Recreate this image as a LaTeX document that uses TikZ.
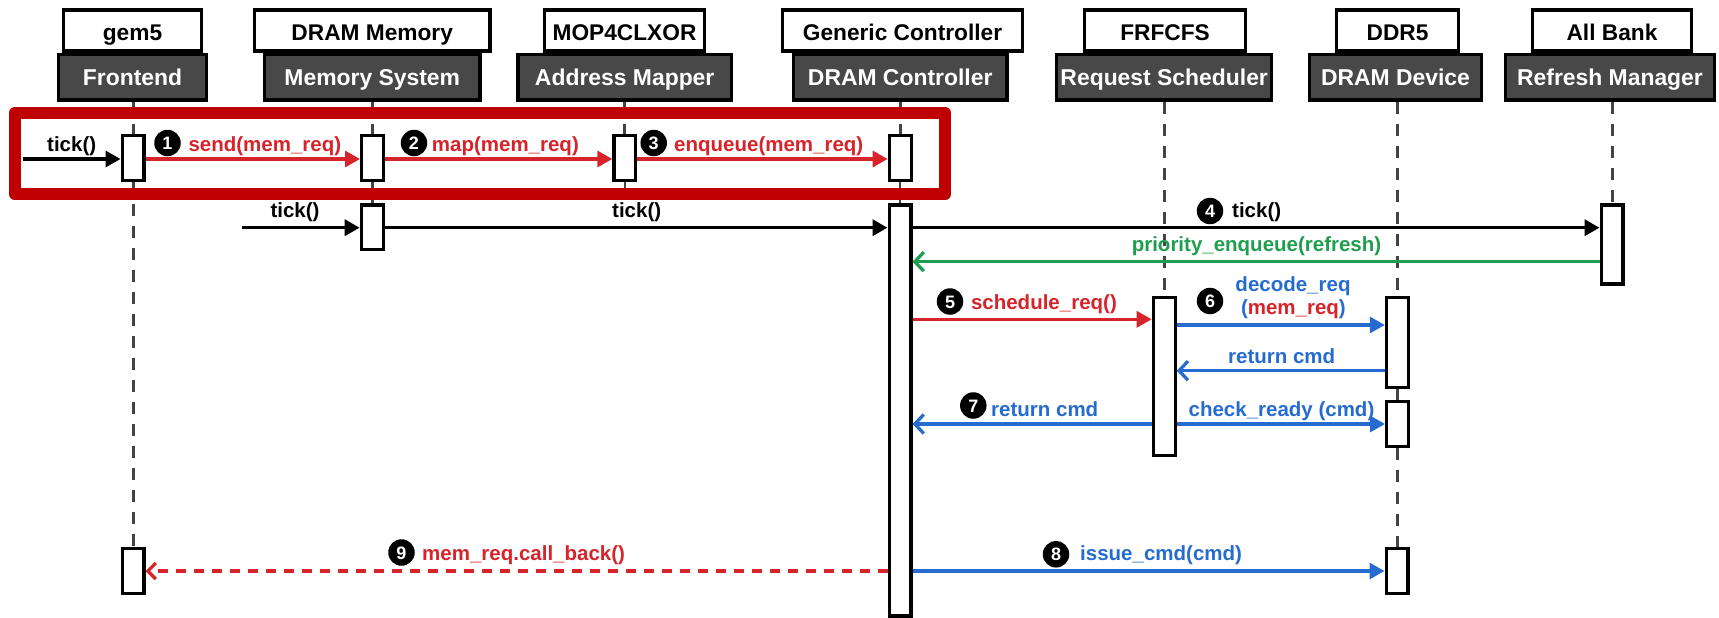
\documentclass[tikz,border=0pt]{standalone}
\usepackage{fontspec}
\setmainfont{Liberation Sans}
\usetikzlibrary{arrows.meta}
\definecolor{callred}{RGB}{214,36,42}
\definecolor{boxred}{RGB}{192,0,0}
\definecolor{callblue}{RGB}{38,108,208}
\definecolor{callgreen}{RGB}{31,158,79}
\definecolor{headgray}{RGB}{72,72,72}
\definecolor{lifegray}{RGB}{68,68,68}
\begin{document}
\begin{tikzpicture}[x=1pt,y=-1pt,
  hdrtop/.style={draw=black, line width=3.4pt, fill=white, minimum height=41pt,
    inner sep=0pt, text height=20pt, text depth=0pt,
    font=\fontsize{22.7}{26}\selectfont\bfseries},
  hdrbot/.style={draw=black, line width=3.4pt, fill=headgray, text=white,
    minimum height=45.3pt, inner sep=0pt, text height=16.4pt, text depth=0pt,
    font=\fontsize{22.9}{26}\selectfont\bfseries},
  act/.style={draw=black, line width=3.2pt, fill=white, minimum width=21.8pt, inner sep=0pt},
  life/.style={draw=lifegray, line width=3pt, dash pattern=on 12pt off 10pt},
  lifesolid/.style={draw=lifegray, line width=2.6pt},
  lbl/.style={inner sep=0pt, font=\fontsize{20.5}{24}\selectfont\bfseries},
  num/.style={circle, fill=black, text=white, minimum size=26.5pt, inner sep=0pt,
    text height=13pt, text depth=0pt, font=\fontsize{18}{20}\selectfont\bfseries},
  call/.style={line width=3.3pt, -{Triangle[length=15pt,width=16pt]}},
  ret/.style={line width=3.3pt, -{Straight Barb[length=9pt,width=19pt]}},
]
\useasboundingbox (0,0) rectangle (1719,618);

% ---- participant headers ----
\node[hdrtop, minimum width=137.6pt] (topGem)  at (132.5,30.5)  {gem5};
\node[hdrtop, minimum width=235.6pt] (topDram) at (372.2,30.5)  {DRAM Memory};
\node[hdrtop, minimum width=159.6pt] (topMop)  at (624.5,30.5)  {MOP4CLXOR};
\node[hdrtop, minimum width=239.6pt] (topGen)  at (902.5,30.5)  {Generic Controller};
\node[hdrtop, minimum width=160.6pt] (topFr)   at (1165,30.5)   {FRFCFS};
\node[hdrtop, minimum width=121.6pt] (topDdr)  at (1397.5,30.5) {DDR5};
\node[hdrtop, minimum width=159.2pt] (topBank) at (1612,30.5)   {All Bank};

\node[hdrbot, minimum width=147.6pt] (botFront)   at (132.5,77.35)  {Frontend};
\node[hdrbot, minimum width=215.3pt] (botMemSys)  at (372.3,77.35)  {Memory System};
\node[hdrbot, minimum width=213.6pt] (botMapper)  at (624.7,77.35)  {Address Mapper};
\node[hdrbot, minimum width=213.6pt] (botCtrl)    at (900.2,77.35)  {DRAM Controller};
\node[hdrbot, minimum width=214.9pt] (botSched)   at (1164.2,77.35) {Request Scheduler};
\node[hdrbot, minimum width=171.6pt] (botDevice)  at (1395.5,77.35) {DRAM Device};
\node[hdrbot, minimum width=208.6pt] (botRefresh) at (1610,77.35)   {Refresh Manager};

% ---- centres of the first row of activation bars ----
\path
  (133,157.85)   coordinate (pFront)
  (372.5,157.85) coordinate (pMem)
  (624.8,157.85) coordinate (pMap)
  (900.2,157.85) coordinate (pCtrl);

% ---- lifelines ----
\draw[life] (botFront.south -| pFront) -- (pFront);
\draw[life] (botMemSys.south -| pMem) -- (pMem);
\draw[life] (botMapper.south -| pMap) -- (pMap);
\draw[life] (botCtrl.south -| pCtrl) -- (pCtrl);
\draw[lifesolid] (pMap) -- ++(0,40);
\draw[life] (botSched.south -| 1164.2,0) -- (1164.2,300);
\draw[life] (botDevice.south -| 1397.3,0) -- (1397.3,300);
\draw[life] (botRefresh.south -| 1612,0) -- (1612,210);
\draw[life] (133,181.7) -- (133,550);
\draw[lifesolid] (372.3,181.7) -- (372.3,205);
\draw[lifesolid] (900.1,181.7) -- (900.1,205);
\draw[lifesolid] (1397.4,389) -- (1397.4,401);
\draw[life] (1397.2,447.7) -- (1397.2,550);

% ---- highlighted group ----
\node[draw=boxred, line width=12.5pt, line join=round, minimum width=930pt,
      minimum height=81pt, inner sep=0pt] (grp) at (480,153.5) {};

% ---- activation bars ----
\node[act, minimum height=44.5pt]  (aFront)     at (pFront) {};
\node[act, minimum height=44.5pt]  (aMem)       at (pMem) {};
\node[act, minimum height=44.5pt]  (aMap)       at (pMap) {};
\node[act, minimum height=44.5pt]  (aCtrl)      at (pCtrl) {};
\node[act, minimum height=44.5pt]  (aMemTick)   at (372.2,227.15) {};
\node[act, minimum height=411pt]   (aCtrlMain)  at (900,410.4) {};
\node[act, minimum height=79pt]    (aRefresh)   at (1612,244.4) {};
\node[act, minimum height=158.4pt] (aSched)     at (1164.2,376.5) {};
\node[act, minimum height=90.4pt]  (aDevDecode) at (1397.3,342.5) {};
\node[act, minimum height=44.5pt]  (aDevReady)  at (1397.5,423.85) {};
\node[act, minimum height=45.1pt]  (aFrontBack) at (133,570.85) {};
\node[act, minimum height=45.1pt]  (aDevIssue)  at (1397,570.85) {};

% ---- messages ----
\coordinate (tickA) at (23,159);
\draw[call, black]   (tickA) -- (tickA -| aFront.west);
\draw[call, callred] (aFront.east |- tickA) -- (tickA -| aMem.west);
\draw[call, callred] (aMem.east |- tickA) -- (tickA -| aMap.west);
\draw[call, callred] (aMap.east |- tickA) -- (tickA -| aCtrl.west);

\coordinate (tickB) at (241.7,227.7);
\draw[call, black] (tickB) -- (tickB -| aMemTick.west);
\draw[call, black] (aMemTick.east |- tickB) -- (tickB -| aCtrlMain.west);
\draw[call, black] (aCtrlMain.east |- tickB) -- (tickB -| aRefresh.west);

\draw[ret, callgreen] (aRefresh.west |- 0,261.7) -- (aCtrlMain.east |- 0,261.7);
\draw[call, callred]  (aCtrlMain.east |- 0,319.3) -- (aSched.west |- 0,319.3);
\draw[call, callblue] (aSched.east |- 0,325) -- (aDevDecode.west |- 0,325);
\draw[ret, callblue]  (aDevDecode.west |- 0,370.7) -- (aSched.east |- 0,370.7);
\draw[ret, callblue]  (aSched.west |- 0,424) -- (aCtrlMain.east |- 0,424);
\draw[call, callblue] (aSched.east |- 0,424) -- (aDevReady.west |- 0,424);
\draw[callred, line width=3.3pt, dash pattern=on 10pt off 8pt,
      -{Straight Barb[length=8pt,width=16pt]}]
      (aCtrlMain.west |- 0,571) -- (aFrontBack.east |- 0,571);
\draw[call, callblue] (aCtrlMain.east |- 0,571) -- (aDevIssue.west |- 0,571);

% ---- message labels ----
\node[lbl, anchor=base] (lTickA) at (71.7,151.5) {tick()};
\node[num] (n1) at (167.5,143) {1};
\node[lbl, text=callred, anchor=base west] (l1) at (188.3,151.5) {send(mem\_req)};
\node[num] (n2) at (414,143) {2};
\node[lbl, text=callred, anchor=base west] (l2) at (431.7,151.5) {map(mem\_req)};
\node[num] (n3) at (653.7,143) {3};
\node[lbl, text=callred, anchor=base west] (l3) at (674,151.5) {enqueue(mem\_req)};

\node[lbl, anchor=base] (lTickB) at (295,217.5) {tick()};
\node[lbl, anchor=base] (lTickC) at (636.7,217.5) {tick()};
\node[num] (n4) at (1210,211) {4};
\node[lbl, anchor=base west] (l4) at (1232,217.5) {tick()};
\node[lbl, text=callgreen, anchor=base] (lRef) at (1256.5,251) {priority\_enqueue(refresh)};

\node[num] (n5) at (950,301.5) {5};
\node[lbl, text=callred, anchor=base west] (l5) at (970.8,309) {schedule\_req()};
\node[num] (n6) at (1210,301) {6};
\node[lbl, text=callblue, anchor=base] (l6a) at (1293,291) {decode\_req};
\node[lbl, text=callblue, anchor=base] (l6b) at (1293.4,314) {(\textcolor{callred}{mem\_req})};
\node[lbl, text=callblue, anchor=base] (lRetA) at (1281.7,363) {return cmd};
\node[num] (n7) at (973.3,405.5) {7};
\node[lbl, text=callblue, anchor=base west] (l7) at (991,416.5) {return cmd};
\node[lbl, text=callblue, anchor=base] (lChk) at (1281.5,416) {check\_ready (cmd)};

\node[num] (n9) at (401.5,552.5) {9};
\node[lbl, text=callred, anchor=base west] (l9) at (422,560) {mem\_req.call\_back()};
\node[num] (n8) at (1056,554.3) {8};
\node[lbl, text=callblue, anchor=base west] (l8) at (1080,560.5) {issue\_cmd(cmd)};
\end{tikzpicture}
\end{document}
